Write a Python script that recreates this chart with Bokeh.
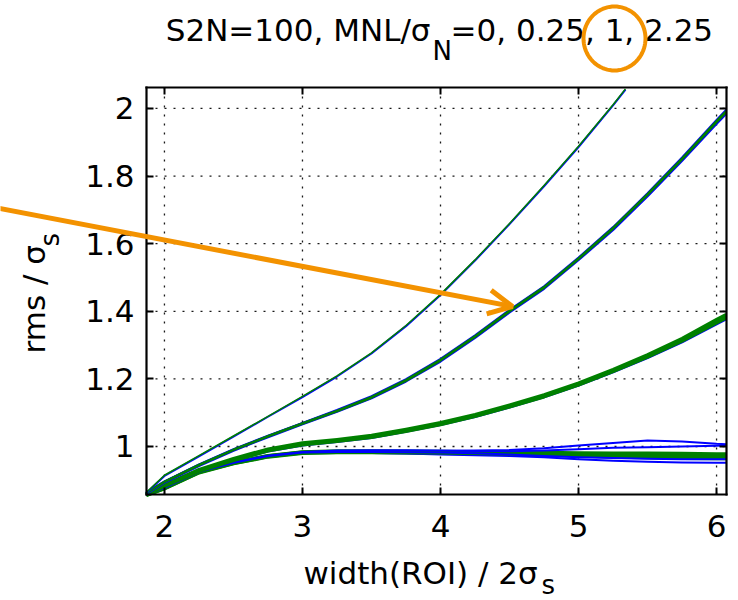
import math
from bokeh.plotting import figure
from bokeh.models import (Label, Arrow, OpenHead, PolyAnnotation, FixedTicker,
                          LinearAxis, CustomJSTickFormatter, Range1d)
from bokeh.embed import file_html
from bokeh.resources import INLINE

# ---------------- data ----------------
X = [1.868, 2.0, 2.25, 2.5, 2.75, 3.0, 3.25, 3.5, 3.75, 4.0, 4.25, 4.5, 4.75,
     5.0, 5.25, 5.5, 5.75, 6.0, 6.07]
XA = [1.868, 2.0, 2.25, 2.5, 2.75, 3.0, 3.25, 3.5, 3.75, 4.0, 4.25, 4.5, 4.75,
      5.0, 5.25, 5.34]

A_blue = [0.862, 0.913, 0.971, 1.029, 1.088, 1.146, 1.207, 1.275, 1.356, 1.448, 1.550, 1.658, 1.770, 1.886, 2.009, 2.056]
A_green = [0.864, 0.915, 0.973, 1.031, 1.089, 1.148, 1.209, 1.277, 1.358, 1.450, 1.552, 1.660, 1.772, 1.888, 2.011, 2.058]

B_blue1 = [0.860, 0.893, 0.943, 0.988, 1.028, 1.066, 1.103, 1.143, 1.193, 1.252, 1.322, 1.397, 1.467, 1.552, 1.641, 1.741, 1.846, 1.955, 1.985]
B_green1 = [0.862, 0.895, 0.945, 0.990, 1.030, 1.068, 1.105, 1.145, 1.195, 1.255, 1.325, 1.400, 1.470, 1.555, 1.645, 1.745, 1.850, 1.960, 1.990]
B_blue2 = [0.864, 0.897, 0.947, 0.992, 1.032, 1.070, 1.108, 1.149, 1.199, 1.259, 1.329, 1.404, 1.474, 1.559, 1.649, 1.749, 1.855, 1.966, 1.996]
B_green2 = [0.863, 0.896, 0.946, 0.991, 1.031, 1.069, 1.106, 1.147, 1.197, 1.257, 1.327, 1.402, 1.472, 1.557, 1.647, 1.747, 1.852, 1.963, 1.993]

C_green1 = [0.858, 0.883, 0.928, 0.960, 0.988, 1.006, 1.016, 1.028, 1.046, 1.066, 1.090, 1.118, 1.148, 1.183, 1.223, 1.266, 1.313, 1.367, 1.382]
C_blue1 = [0.860, 0.885, 0.930, 0.962, 0.990, 1.008, 1.018, 1.030, 1.048, 1.068, 1.092, 1.120, 1.150, 1.185, 1.225, 1.268, 1.315, 1.370, 1.385]
C_green2 = [0.861, 0.887, 0.932, 0.965, 0.993, 1.011, 1.021, 1.033, 1.051, 1.071, 1.095, 1.123, 1.153, 1.188, 1.228, 1.272, 1.320, 1.376, 1.391]
C_blue2 = [0.857, 0.882, 0.927, 0.959, 0.986, 1.004, 1.014, 1.026, 1.044, 1.064, 1.088, 1.116, 1.146, 1.181, 1.220, 1.262, 1.309, 1.362, 1.377]
C_green3 = [0.859, 0.884, 0.929, 0.961, 0.989, 1.007, 1.017, 1.029, 1.047, 1.067, 1.091, 1.119, 1.149, 1.184, 1.224, 1.267, 1.314, 1.369, 1.384]

D_green1 = [0.856, 0.876, 0.923, 0.950, 0.970, 0.981, 0.983, 0.983, 0.982, 0.981, 0.980, 0.978, 0.977, 0.976, 0.975, 0.974, 0.973, 0.972, 0.972]
D_blue1 = [0.858, 0.878, 0.925, 0.952, 0.972, 0.983, 0.986, 0.987, 0.987, 0.987, 0.988, 0.990, 0.995, 1.003, 1.010, 1.018, 1.015, 1.008, 1.007]
D_green2 = [0.859, 0.879, 0.926, 0.953, 0.973, 0.984, 0.987, 0.987, 0.986, 0.985, 0.984, 0.983, 0.982, 0.981, 0.980, 0.980, 0.979, 0.978, 0.978]
D_blue2 = [0.857, 0.877, 0.924, 0.951, 0.971, 0.981, 0.982, 0.981, 0.979, 0.976, 0.974, 0.972, 0.968, 0.962, 0.958, 0.955, 0.953, 0.952, 0.952]
D_blue3 = [0.859, 0.879, 0.926, 0.953, 0.973, 0.984, 0.988, 0.989, 0.989, 0.988, 0.987, 0.986, 0.988, 0.992, 0.996, 0.998, 1.000, 1.002, 1.003]
D_green3 = [0.857, 0.877, 0.924, 0.951, 0.971, 0.982, 0.984, 0.984, 0.983, 0.982, 0.981, 0.979, 0.976, 0.973, 0.970, 0.968, 0.966, 0.965, 0.965]
D_blue4 = [0.858, 0.878, 0.925, 0.952, 0.972, 0.982, 0.984, 0.984, 0.983, 0.982, 0.980, 0.976, 0.972, 0.968, 0.966, 0.964, 0.962, 0.962, 0.962]

X_TICKS = [2, 3, 4, 5, 6]
X_TICK_LABELS = ["2", "3", "4", "5", "6"]
Y_TICKS = [1.0, 1.2, 1.4, 1.6, 1.8, 2.0]
Y_TICK_LABELS = ["1", "1.2", "1.4", "1.6", "1.8", "2"]

TITLE_MAIN = "S2N=100, MNL/σ"
TITLE_SUB = "N"
TITLE_REST = "=0, 0.25, 1, 2.25"
XLABEL_MAIN = "width(ROI) / 2σ"
XLABEL_SUB = "s"
YLABEL_MAIN = "rms / σ"
YLABEL_SUB = "s"

# ---------------- layout (pixels of the inner box) ----------------
W, H = 738, 600
L, R, T, B = 146, 12, 87, 106
FW, FH = W - L - R, H - T - B
X0, X1 = 1.870, 6.072
Y0, Y1 = 0.858, 2.062
FONT = "DejaVu Sans"
BLUE, GREEN, ORANGE = "#0000FF", "#008000", "#F39200"
SHIFT = 13  # labels render this many px below their alphabetic anchor


def dx(px):
    return X0 + (px - L) * (X1 - X0) / FW


def dy(py):
    return Y1 - (py - T) * (Y1 - Y0) / FH


# the frame covers the whole canvas; the axes box is drawn with fixed-location axes
p = figure(width=W, height=H, output_backend="svg", toolbar_location=None,
           x_range=Range1d(dx(0), dx(W)), y_range=Range1d(dy(H), dy(0)),
           min_border=0, background_fill_color="white",
           border_fill_color="white")
p.outline_line_color = None
p.grid.visible = False


def style_axis(ax, ticks, fixed, bounds):
    ax.ticker = FixedTicker(ticks=ticks)
    ax.fixed_location = fixed
    ax.bounds = bounds
    ax.major_tick_in = 7
    ax.major_tick_out = 0
    ax.minor_tick_in = 0
    ax.minor_tick_out = 0
    ax.axis_line_width = 2.2
    ax.axis_line_cap = "square"
    ax.major_tick_line_width = 2
    ax.axis_label = None


style_axis(p.xaxis[0], X_TICKS, Y0, (X0, X1))
style_axis(p.yaxis[0], Y_TICKS, X0, (Y0, Y1))
for ax, ticks, labels in ((p.xaxis[0], X_TICKS, X_TICK_LABELS),
                          (p.yaxis[0], Y_TICKS, Y_TICK_LABELS)):
    ax.major_label_overrides = {t: s for t, s in zip(ticks, labels)}
    ax.major_label_text_font = FONT
    ax.major_label_text_font_size = "31px"
    ax.major_label_text_color = "black"
p.xaxis[0].major_label_standoff = 20
p.yaxis[0].major_label_standoff = 12

for loc, ticks, fixed, bounds in (("above", X_TICKS, Y1, (X0, X1)),
                                  ("right", Y_TICKS, X1, (Y0, Y1))):
    ax = LinearAxis(formatter=CustomJSTickFormatter(code="return ''"))
    style_axis(ax, ticks, fixed, bounds)
    ax.major_label_standoff = 0
    ax.major_label_text_font_size = "1px"
    p.add_layout(ax, loc)

# dotted grid inside the box
GRID = dict(line_color="black", line_dash="2 7", line_width=1.3, line_alpha=0.9)
p.segment(x0=X_TICKS, y0=[Y0] * len(X_TICKS), x1=X_TICKS, y1=[Y1] * len(X_TICKS), **GRID)
p.segment(x0=[X0] * len(Y_TICKS), y0=Y_TICKS, x1=[X1] * len(Y_TICKS), y1=Y_TICKS, **GRID)

# ---------------- curves ----------------
series = [
    (X, D_green1, GREEN, 4), (X, D_blue2, BLUE, 2), (X, D_green3, GREEN, 4),
    (X, D_blue1, BLUE, 2), (X, D_green2, GREEN, 3.5), (X, D_blue3, BLUE, 2), (X, D_blue4, BLUE, 2),
    (X, C_blue2, BLUE, 2.5), (X, C_green1, GREEN, 4), (X, C_blue1, BLUE, 2),
    (X, C_green2, GREEN, 3), (X, C_green3, GREEN, 3),
    (X, B_blue1, BLUE, 2.5), (X, B_green1, GREEN, 2.5), (X, B_blue2, BLUE, 2), (X, B_green2, GREEN, 2),
    (XA, A_blue, BLUE, 2), (XA, A_green, GREEN, 1.5),
]
for xs, ys, col, lw in series:
    p.line(xs, ys, line_color=col, line_width=lw, line_join="round")


# ---------------- texts ----------------
def lab(text, px, py, size, align="left", angle=0.0):
    if angle:
        px -= SHIFT
    else:
        py -= SHIFT
    p.add_layout(Label(x=dx(px), y=dy(py), text=text, text_font=FONT,
                       text_font_size=f"{size}px", text_color="black",
                       text_align=align, text_baseline="alphabetic",
                       angle=angle))


lab(TITLE_MAIN, 430, 42, 31, align="right")
lab(TITLE_SUB, 432, 63, 26)
lab(TITLE_REST, 450, 42, 31)

lab(XLABEL_MAIN, 303, 585, 31)
lab(XLABEL_SUB, 541, 597, 26)

lab(YLABEL_MAIN, 46, 353, 31, angle=math.pi / 2)
lab(YLABEL_SUB, 62, 246, 26, angle=math.pi / 2)

# ---------------- orange annotations ----------------
p.add_layout(Arrow(end=OpenHead(size=24, line_color=ORANGE, line_width=5),
                   x_start=dx(-6), y_start=dy(207), x_end=dx(512), y_end=dy(306),
                   line_color=ORANGE, line_width=5))

cx, cy, rx, ry = 614, 38, 31, 32
n = 80
exs = [dx(cx + rx * math.cos(2 * math.pi * k / n)) for k in range(n)]
eys = [dy(cy + ry * math.sin(2 * math.pi * k / n)) for k in range(n)]
p.add_layout(PolyAnnotation(xs=exs, ys=eys, fill_alpha=0, fill_color=None,
                            line_color=ORANGE, line_alpha=1.0, line_width=4))

open("out.html", "w").write(file_html(p, INLINE))
